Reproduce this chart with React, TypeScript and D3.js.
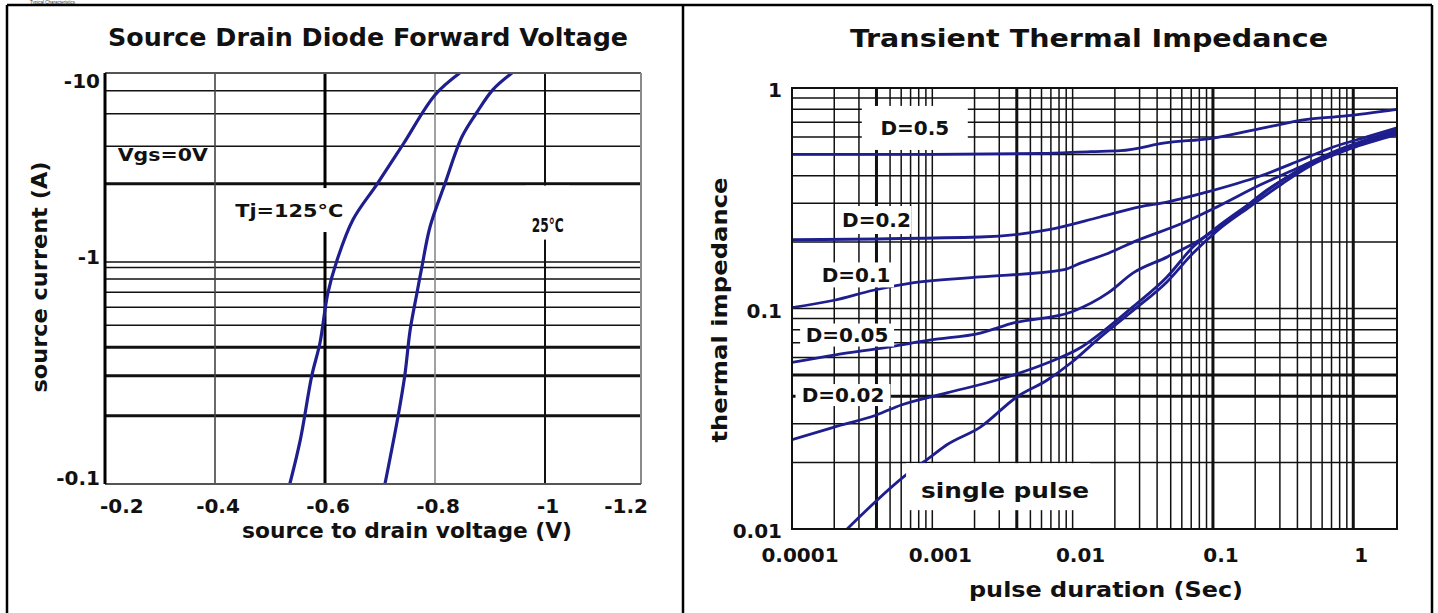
import * as d3 from "d3";

// ---- left chart: source drain diode forward voltage ----
const voltageTicks = [-0.2, -0.4, -0.6, -0.8, -1, -1.2];
const voltageGrid = [-0.4, -0.6, -0.8, -1];
const currentTicks = [-10, -1, -0.1];
const currentGrid = [-8, -6, -4, -2.5, -0.95, -0.9, -0.8, -0.7, -0.6, -0.5, -0.4, -0.3, -0.2];
const currentHeavy = [-2.5, -0.4, -0.3, -0.2];

// [voltage V, current A]
const tj125: [number, number][] = [
  [-0.536, -0.1], [-0.555, -0.156], [-0.576, -0.3], [-0.591, -0.42], [-0.605, -0.69],
  [-0.622, -0.97], [-0.651, -1.6], [-0.695, -2.5], [-0.742, -4.1], [-0.8, -7.6], [-0.845, -10],
];
const tj25: [number, number][] = [
  [-0.709, -0.1], [-0.733, -0.2], [-0.745, -0.3], [-0.755, -0.48], [-0.767, -0.69],
  [-0.776, -0.9], [-0.791, -1.46], [-0.818, -2.5], [-0.849, -4.5], [-0.876, -6.1],
  [-0.905, -8.1], [-0.94, -10],
];

// ---- right chart: transient thermal impedance ----
const durationTicks = [0.0001, 0.001, 0.01, 0.1, 1];
const durationLabels = ["0.0001", "0.001", "0.01", "0.1", "1"];
const durationHeavy = [0.0004, 0.004, 0.1, 1];
const impedanceTicks = [1, 0.1, 0.01];
const impedanceLabels = ["1", "0.1", "0.01"];
const impedanceHeavy = [0.05, 0.04];

// [pulse duration s, thermal impedance]
const d05: [number, number][] = [
  [1e-4, 0.5], [0.001, 0.5], [0.006, 0.505], [0.0135, 0.515], [0.022, 0.52], [0.047, 0.565],
  [0.095, 0.59], [0.23, 0.66], [0.47, 0.72], [0.85, 0.745], [2.05, 0.8],
];
const d02: [number, number][] = [
  [1e-4, 0.205], [0.0022, 0.211], [0.0066, 0.227], [0.0157, 0.26], [0.03, 0.289], [0.047, 0.304],
  [0.09, 0.337], [0.22, 0.4], [0.42, 0.47], [0.72, 0.54], [1.25, 0.6], [2.05, 0.66],
];
const d01: [number, number][] = [
  [1e-4, 0.101], [2e-4, 0.109], [3.8e-4, 0.121], [7.4e-4, 0.131], [0.0022, 0.139], [0.0087, 0.15],
  [0.0115, 0.161], [0.018, 0.178], [0.027, 0.2], [0.061, 0.244], [0.107, 0.289], [0.216, 0.363],
  [0.418, 0.438], [0.718, 0.513], [2.05, 0.645],
];
const d005: [number, number][] = [
  [1e-4, 0.057], [2e-4, 0.0615], [4.75e-4, 0.0667], [9.8e-4, 0.072], [0.0022, 0.0774],
  [0.0038, 0.086], [0.0099, 0.0967], [0.018, 0.118], [0.027, 0.145], [0.047, 0.171],
  [0.081, 0.205], [0.139, 0.26], [0.243, 0.345], [0.418, 0.425], [0.718, 0.507], [2.05, 0.632],
];
const d002: [number, number][] = [
  [1e-4, 0.0254], [2e-4, 0.029], [4e-4, 0.0329], [6e-4, 0.0365], [0.00127, 0.0414],
  [0.00289, 0.0474], [0.00657, 0.0566], [0.0115, 0.0667], [0.017, 0.08], [0.027, 0.102],
  [0.047, 0.139], [0.072, 0.19], [0.107, 0.234], [0.184, 0.3], [0.315, 0.383], [0.55, 0.472],
  [0.95, 0.54], [2.05, 0.625],
];
const singlePulse: [number, number][] = [
  [2.47e-4, 0.01], [6.5e-4, 0.0176], [9.5e-4, 0.021], [0.00127, 0.0241], [0.0022, 0.029],
  [0.004, 0.0397], [0.0066, 0.0474], [0.0099, 0.0572], [0.0157, 0.074], [0.027, 0.098],
  [0.047, 0.132], [0.072, 0.178], [0.107, 0.225], [0.184, 0.29], [0.315, 0.37], [0.55, 0.46],
  [0.95, 0.53], [2.05, 0.615],
];

// annotation anchors, in data units
const dutyLabels = [
  { text: "D=0.5", t: 7.5e-4, z: 0.659, w: 106, h: 44 },
  { text: "D=0.2", t: 4.0e-4, z: 0.252, w: 70, h: 28 },
  { text: "D=0.1", t: 2.86e-4, z: 0.142, w: 76, h: 25 },
  { text: "D=0.05", t: 2.47e-4, z: 0.0758, w: 94, h: 23 },
  { text: "D=0.02", t: 2.31e-4, z: 0.0405, w: 95, h: 22 },
];

const BLUE = "#1e1e8e";
const BOLD = "'DejaVu Sans', Verdana, sans-serif";
const NARROW = "'Liberation Sans Narrow', 'DejaVu Sans Condensed', 'Arial Narrow', sans-serif";

const near = (a: number, list: number[]) => list.some((b) => Math.abs(a - b) < Math.abs(b) * 1e-6);

function ForwardVoltage() {
  const left = 105, right = 641, top = 73, one = 257, bottom = 484;
  const x = d3.scaleLinear().domain([-0.2, -1.2]).range([left, 655]);
  const y = d3.scaleLog().domain([-0.1, -1, -10]).range([bottom, one, top]);
  const line = d3
    .line<[number, number]>()
    .x((d) => x(d[0]))
    .y((d) => y(d[1]))
    .curve(d3.curveCatmullRom);

  const vStyle = (v: number) =>
    v === -0.6 ? { s: "#000", w: 3 } : v === -1 ? { s: "#111", w: 2 } : v === -0.8 ? { s: "#8a8a8a", w: 1.6 } : { s: "#444", w: 1.6 };

  return (
    <g>
      <text x={108} y={46} fontFamily={NARROW} fontWeight="bold" fontSize={24} textLength={520} lengthAdjust="spacingAndGlyphs" fill="#111">
        Source Drain Diode Forward Voltage
      </text>

      {currentGrid.map((c) => (
        <line key={c} x1={left} x2={right} y1={y(c)} y2={y(c)} stroke="#111" strokeWidth={near(c, currentHeavy) ? 3 : 1.5} />
      ))}
      {voltageGrid.map((v) => (
        <line key={v} x1={x(v)} x2={x(v)} y1={top} y2={bottom} stroke={vStyle(v).s} strokeWidth={vStyle(v).w} />
      ))}

      {/* label backgrounds that cut the grid */}
      <rect x={x(-0.535) - 59} y={y(-1.8) - 22} width={118} height={44} fill="#fff" />
      <rect x={x(-1.005) - 22} y={y(-1.5) - 39} width={44} height={54} fill="#fff" />

      <path d={line(tj125) ?? ""} fill="none" stroke={BLUE} strokeWidth={3.2} />
      <path d={line(tj25) ?? ""} fill="none" stroke={BLUE} strokeWidth={3.2} />

      <text x={x(-0.305)} y={y(-3.6)} textAnchor="middle" dominantBaseline="central" fontFamily={BOLD} fontWeight="bold" fontSize={18} textLength={90} lengthAdjust="spacingAndGlyphs" fill="#111">
        Vgs=0V
      </text>
      <text x={x(-0.535)} y={y(-1.8)} textAnchor="middle" dominantBaseline="central" fontFamily={NARROW} fontWeight="bold" fontSize={18} textLength={108} lengthAdjust="spacingAndGlyphs" fill="#111">
        Tj=125°C
      </text>
      <text x={x(-1.005)} y={y(-1.5)} textAnchor="middle" dominantBaseline="central" fontFamily={NARROW} fontWeight="bold" fontSize={20} textLength={32} lengthAdjust="spacingAndGlyphs" fill="#111">
        25°C
      </text>

      {/* frame */}
      <line x1={left} x2={right} y1={top} y2={top} stroke="#555" strokeWidth={2} />
      <line x1={right} x2={right} y1={top} y2={bottom} stroke="#8a8a8a" strokeWidth={2} />
      <line x1={left} x2={right} y1={bottom} y2={bottom} stroke="#555" strokeWidth={2} />
      <line x1={left} x2={left} y1={top} y2={bottom} stroke="#000" strokeWidth={3} />

      {currentTicks.map((c) => (
        <text key={c} x={100} y={Math.min(Math.max(y(c), top + 8), bottom - 6)} textAnchor="end" dominantBaseline="central" fontFamily={BOLD} fontWeight="bold" fontSize={20} fill="#111">
          {c}
        </text>
      ))}
      {voltageTicks.map((v, i) => (
        <text
          key={v}
          x={i === 0 ? x(v) - 5 : i === voltageTicks.length - 1 ? right + 7 : x(v) + 3}
          y={506}
          textAnchor={i === 0 ? "start" : i === voltageTicks.length - 1 ? "end" : "middle"}
          dominantBaseline="central"
          fontFamily={BOLD}
          fontWeight="bold"
          fontSize={20}
          fill="#111"
        >
          {v}
        </text>
      ))}
      <text x={407} y={538} textAnchor="middle" fontFamily={BOLD} fontWeight="bold" fontSize={22} textLength={330} lengthAdjust="spacingAndGlyphs" fill="#111">
        source to drain voltage (V)
      </text>
      <text transform="translate(40,277) rotate(-90)" textAnchor="middle" dominantBaseline="central" fontFamily={BOLD} fontWeight="bold" fontSize={21} textLength={231} lengthAdjust="spacingAndGlyphs" fill="#111">
        source current (A)
      </text>
    </g>
  );
}

function ThermalImpedance() {
  const left = 792, right = 1397, top = 88, bottom = 529;
  const x = d3.scaleLog().domain([1e-4, 2.05]).range([left, right]);
  const y = d3.scaleLog().domain([0.01, 1]).range([bottom, top]);
  const line = d3
    .line<[number, number]>()
    .x((d) => x(d[0]))
    .y((d) => y(d[1]))
    .curve(d3.curveMonotoneX);

  const vGrid = x.ticks().filter((t) => t < 1.9);
  const hGrid = y.ticks();
  const curves = [d05, d02, d01, d005, d002, singlePulse];

  return (
    <g>
      <defs>
        <clipPath id="tti-clip">
          <rect x={left} y={top} width={right - left} height={bottom - top} />
        </clipPath>
      </defs>
      <text x={850} y={47} fontFamily={NARROW} fontWeight="bold" fontSize={24} textLength={478} lengthAdjust="spacingAndGlyphs" fill="#111">
        Transient Thermal Impedance
      </text>

      {hGrid.map((z) => (
        <line key={z} x1={left} x2={right} y1={y(z)} y2={y(z)} stroke="#111" strokeWidth={near(z, impedanceHeavy) ? 3 : 1.5} />
      ))}
      {vGrid.map((t) => (
        <line key={t} x1={x(t)} x2={x(t)} y1={top} y2={bottom} stroke="#111" strokeWidth={near(t, durationHeavy) ? 3 : 1.5} />
      ))}

      <g clipPath="url(#tti-clip)">
        {curves.map((c, i) => (
          <path key={i} d={line(c) ?? ""} fill="none" stroke={BLUE} strokeWidth={2.8} />
        ))}
      </g>

      {dutyLabels.map((d) => (
        <g key={d.text}>
          <rect x={x(d.t) - d.w / 2} y={y(d.z) - d.h / 2} width={d.w} height={d.h} fill="#fff" />
          <text x={x(d.t)} y={y(d.z)} textAnchor="middle" dominantBaseline="central" fontFamily={BOLD} fontWeight="bold" fontSize={20} fill="#111">
            {d.text}
          </text>
        </g>
      ))}
      <rect x={x(0.0033) - 99} y={y(0.015) - 27} width={184} height={47} fill="#fff" />
      <text x={x(0.0033)} y={y(0.015)} textAnchor="middle" dominantBaseline="central" fontFamily={BOLD} fontWeight="bold" fontSize={22} textLength={168} lengthAdjust="spacingAndGlyphs" fill="#111">
        single pulse
      </text>

      <rect x={left} y={top} width={right - left} height={bottom - top} fill="none" stroke="#111" strokeWidth={2} />

      {impedanceTicks.map((z, i) => (
        <text key={z} x={782} y={y(z) + 2} textAnchor="end" dominantBaseline="central" fontFamily={BOLD} fontWeight="bold" fontSize={20} fill="#111">
          {impedanceLabels[i]}
        </text>
      ))}
      {durationTicks.map((t, i) => (
        <text key={t} x={x(t) + 8} y={555} textAnchor="middle" dominantBaseline="central" fontFamily={BOLD} fontWeight="bold" fontSize={20} fill="#111">
          {durationLabels[i]}
        </text>
      ))}
      <text x={1106} y={597} textAnchor="middle" fontFamily={BOLD} fontWeight="bold" fontSize={22} textLength={274} lengthAdjust="spacingAndGlyphs" fill="#111">
        pulse duration (Sec)
      </text>
      <text transform="translate(719,310) rotate(-90)" textAnchor="middle" dominantBaseline="central" fontFamily={BOLD} fontWeight="bold" fontSize={22} textLength={265} lengthAdjust="spacingAndGlyphs" fill="#111">
        thermal impedance
      </text>
    </g>
  );
}

export default function App() {
  return (
    <svg width={1438} height={613} style={{ position: "absolute", left: 0, top: 0, background: "#fff" }}>
      <rect width={1438} height={613} fill="#fff" />
      <text x={30} y={3.5} fontFamily="'Liberation Sans', Arial, sans-serif" fontSize={4.5} fill="#333">
        Typical Characteristics
      </text>
      {/* table borders */}
      <line x1={7} x2={1432} y1={5} y2={5} stroke="#000" strokeWidth={2.5} />
      <line x1={7} x2={7} y1={5} y2={613} stroke="#000" strokeWidth={2.5} />
      <line x1={683} x2={683} y1={5} y2={613} stroke="#000" strokeWidth={2.5} />
      <line x1={1432} x2={1432} y1={5} y2={613} stroke="#000" strokeWidth={2.5} />
      <ForwardVoltage />
      <ThermalImpedance />
    </svg>
  );
}
